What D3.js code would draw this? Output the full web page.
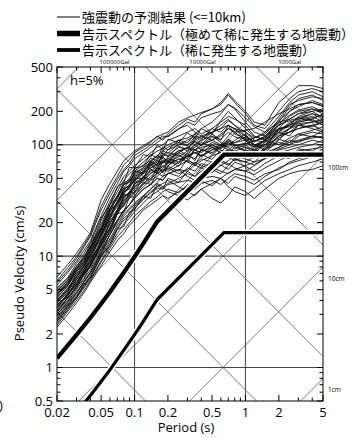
<!DOCTYPE html>
<html>
<head>
<meta charset="utf-8">
<script src="https://cdn.jsdelivr.net/npm/d3@7"></script>
<style>
  body { margin: 0; background: #fff; }
  svg text { font-family: "Open Sans", "Noto Sans", sans-serif; fill: #000; }
  svg text.jp { font-family: "Noto Sans CJK JP", sans-serif; }
</style>
</head>
<body>
<div id="chart"></div>
<script>
// Periods (s) at which the simulated spectra were read off
const periods = [0.02, 0.025, 0.03, 0.035, 0.04, 0.05, 0.06, 0.07, 0.08, 0.09, 0.1, 0.12, 0.14, 0.16, 0.18, 0.2,
  0.25, 0.3, 0.35, 0.4, 0.5, 0.6, 0.7, 0.8, 1.0, 1.2, 1.5, 2.0, 2.5, 3.0, 4.0, 5.0];

// 強震動の予測結果 : pseudo velocity (cm/s), one row per simulated record
const simulated = [
  [2.8, 3.6, 4.6, 5.8, 7, 10.4, 15.6, 21, 25, 29, 33, 40, 44, 50, 48, 55, 60, 58, 66, 62, 70, 65, 72, 80, 75, 70, 85, 95, 110, 105, 120, 115],
  [3.5, 4.5, 5.7, 7.1, 8.4, 13, 19.5, 26, 34, 37, 42, 50, 60, 55, 62, 70, 68, 80, 75, 90, 85, 95, 110, 100, 88, 80, 92, 120, 130, 140, 150, 135],
  [4.5, 5.8, 7.5, 9.2, 11.4, 18, 27, 35, 44, 47, 55, 62, 70, 80, 75, 72, 85, 95, 90, 100, 110, 120, 140, 130, 110, 95, 100, 130, 160, 170, 180, 160],
  [6, 7.9, 9.9, 12.6, 15.6, 28, 40, 52, 66, 74, 85, 95, 105, 120, 110, 125, 150, 170, 160, 190, 210, 230, 280, 240, 190, 150, 140, 200, 260, 300, 320, 300],
  [2.3, 3, 3.8, 4.7, 5.8, 8.2, 11, 13.8, 16, 19, 21, 26, 29, 32, 35, 33, 38, 42, 40, 45, 48, 44, 50, 55, 52, 48, 55, 60, 70, 75, 80, 85],
  [3.2, 4.2, 5.3, 6.7, 8.2, 12.4, 17, 24, 30, 34, 38, 45, 52, 58, 65, 60, 70, 80, 85, 78, 90, 100, 95, 85, 80, 90, 110, 140, 150, 160, 170, 190],
  [4, 5.2, 6.6, 8.3, 10.2, 15.6, 23, 31, 38, 42, 48, 58, 65, 70, 78, 85, 80, 75, 90, 95, 100, 90, 80, 75, 70, 78, 95, 120, 140, 150, 140, 130],
  [3, 3.9, 5, 6.2, 7.6, 11.4, 15.6, 21, 26, 29, 35, 42, 48, 52, 58, 62, 55, 60, 70, 65, 60, 55, 65, 75, 85, 80, 90, 105, 100, 120, 130, 125],
  [5, 6.3, 8.1, 10.1, 12, 21, 31, 41, 52, 58, 65, 75, 85, 95, 100, 110, 120, 130, 140, 125, 140, 160, 180, 170, 150, 120, 110, 150, 200, 220, 250, 230],
  [3.8, 4.8, 6.2, 7.6, 9.4, 15, 22, 29, 36, 42, 47, 55, 62, 66, 70, 75, 70, 85, 95, 105, 95, 85, 90, 100, 95, 85, 100, 125, 140, 160, 170, 150],
  [2.6, 3.4, 4.3, 5.3, 6.5, 9.8, 13, 17.5, 21, 23, 27, 32, 38, 42, 45, 48, 42, 38, 35, 40, 45, 50, 42, 38, 35, 40, 48, 55, 60, 65, 70, 75],
  [4.2, 5.5, 6.9, 8.6, 10.6, 17, 25, 34, 41, 47, 53, 60, 68, 75, 80, 90, 100, 110, 120, 115, 130, 150, 170, 150, 120, 100, 95, 140, 180, 200, 210, 190],
  [3.4, 4.4, 5.6, 6.9, 8.4, 13, 18, 25, 31, 35, 40, 48, 55, 62, 58, 65, 75, 70, 65, 72, 80, 85, 78, 72, 80, 95, 110, 100, 115, 125, 135, 145],
  [5.5, 7.1, 9, 11.3, 13.8, 23, 34, 45, 58, 65, 75, 85, 95, 105, 115, 120, 140, 150, 130, 120, 110, 100, 120, 140, 130, 110, 105, 130, 150, 180, 200, 210],
  [3, 3.8, 4.7, 5.9, 7.2, 11, 15.6, 20, 24, 27, 30, 35, 40, 45, 42, 38, 35, 32, 36, 40, 33, 30, 35, 42, 38, 33, 40, 50, 55, 58, 60, 65],
  [3.9, 5, 6.4, 8, 9.8, 15.6, 22, 30, 37, 42, 48, 56, 62, 68, 72, 70, 78, 88, 100, 110, 120, 105, 95, 110, 125, 100, 90, 120, 130, 150, 160, 170],
  [4.8, 6.1, 7.7, 9.7, 11.8, 19.5, 29, 38, 48, 55, 60, 70, 80, 88, 92, 100, 110, 115, 125, 140, 160, 190, 230, 210, 160, 130, 120, 160, 220, 260, 280, 250],
  [3.3, 4.2, 5.4, 6.8, 8.3, 12.7, 18, 24, 29, 33, 37, 44, 50, 55, 60, 58, 65, 72, 68, 75, 70, 78, 85, 82, 90, 85, 80, 95, 105, 110, 120, 115],
  [2.5, 3.3, 4.2, 5.2, 6.2, 9.1, 12.4, 16, 19.5, 22, 25, 30, 35, 38, 42, 45, 50, 55, 52, 58, 62, 58, 55, 60, 65, 70, 75, 85, 90, 95, 100, 110],
  [4.4, 5.7, 7.2, 9, 11, 17.5, 26, 35, 44, 50, 58, 66, 72, 80, 88, 95, 105, 100, 110, 120, 130, 140, 150, 140, 110, 90, 85, 110, 140, 170, 190, 180],
  [3.6, 4.6, 5.8, 7.2, 8.9, 13.7, 19.5, 26, 33, 38, 44, 52, 58, 64, 70, 78, 88, 95, 85, 80, 90, 95, 100, 105, 110, 115, 130, 160, 170, 190, 210, 200],
  [6.5, 8.4, 10.6, 13.2, 16.2, 32, 45, 58, 72, 80, 88, 98, 108, 118, 125, 130, 160, 175, 185, 195, 210, 240, 290, 250, 200, 160, 150, 240, 290, 340, 340, 320],
  [2.9, 3.7, 4.7, 5.9, 7.1, 10.7, 14.3, 19, 23, 26, 29, 34, 40, 46, 52, 55, 60, 52, 48, 55, 65, 72, 68, 62, 58, 65, 75, 90, 95, 100, 110, 105],
  [4, 5.1, 6.5, 8.2, 10.1, 15.9, 23, 31, 39, 44, 50, 58, 66, 72, 68, 75, 85, 95, 105, 100, 110, 125, 140, 130, 135, 140, 160, 190, 210, 230, 240, 225],
  [3.7, 4.4, 6.2, 7, 9.5, 13, 21, 25, 36, 35, 46, 50, 66, 58, 72, 64, 82, 70, 92, 78, 96, 84, 105, 92, 100, 88, 105, 130, 120, 150, 145, 160],
  [4.6, 5.5, 7.7, 8.7, 12, 17, 26, 30, 41, 42, 58, 55, 72, 65, 85, 78, 98, 88, 115, 100, 125, 110, 150, 125, 115, 98, 110, 150, 170, 190, 200, 175],
  [2.7, 3.6, 4.2, 5.6, 6.4, 10.1, 12.4, 17.5, 18.4, 25, 26, 35, 33, 44, 40, 50, 46, 58, 52, 62, 56, 66, 60, 70, 64, 58, 68, 80, 75, 92, 88, 100],
  [5.2, 6.4, 8.6, 10.6, 13.2, 22, 29, 42, 46, 63, 62, 82, 78, 100, 90, 112, 105, 128, 115, 140, 125, 165, 200, 175, 140, 118, 112, 170, 230, 250, 270, 260],
  [3.1, 4.3, 5.1, 7.1, 7.9, 12.7, 16.3, 24, 25, 34, 34, 46, 44, 56, 52, 64, 58, 74, 66, 82, 74, 90, 82, 96, 88, 80, 90, 112, 105, 125, 118, 135],
  [4.1, 4.9, 7, 7.9, 11, 15.3, 24, 27.5, 38, 40, 50, 50, 68, 60, 78, 70, 90, 80, 100, 90, 105, 98, 112, 104, 118, 106, 120, 150, 165, 175, 165, 150],
  [3.4, 4.6, 5.5, 7.7, 8.6, 14, 17.5, 26, 28, 38, 37, 52, 48, 63, 56, 72, 64, 84, 72, 92, 82, 98, 90, 88, 95, 90, 100, 115, 130, 140, 150, 160],
  [2.4, 3.2, 4, 4.9, 6, 8.8, 11.7, 15, 17.3, 20, 23, 27, 31, 34, 38, 40, 37, 44, 40, 47, 43, 50, 45, 52, 48, 44, 52, 62, 68, 72, 78, 82],
  [5.8, 7.4, 9.5, 12.1, 15, 26, 37, 49, 60, 68, 80, 90, 100, 112, 120, 118, 138, 160, 150, 175, 190, 200, 230, 215, 175, 145, 130, 180, 240, 280, 300, 270],
  [3.9, 4.7, 6.6, 7.5, 10.3, 14.3, 22, 26, 34.5, 37, 45, 48, 60, 56, 70, 68, 85, 78, 90, 85, 100, 92, 108, 98, 104, 96, 110, 138, 150, 165, 175, 185],
  [4.3, 5.4, 7.3, 8.5, 11.5, 16.3, 25, 30, 40, 43, 52, 57, 70, 66, 82, 80, 95, 92, 108, 98, 118, 112, 130, 118, 112, 100, 108, 135, 155, 175, 190, 170],
  [3.2, 4, 5.3, 6.3, 8.3, 11.7, 17, 21, 26, 29, 33, 40, 44, 50, 48, 56, 52, 62, 58, 68, 62, 70, 66, 74, 70, 66, 76, 92, 100, 108, 115, 120],
  [4.9, 6, 8.1, 9.7, 13, 18.2, 29, 34, 46, 48, 62, 64, 82, 76, 96, 90, 110, 104, 125, 112, 140, 130, 150, 138, 120, 108, 115, 155, 185, 205, 220, 200],
  [3.6, 4.5, 5.9, 7.4, 9.1, 13.3, 20, 25, 32, 36, 42, 47, 56, 58, 64, 68, 74, 78, 85, 88, 94, 100, 104, 98, 102, 108, 118, 140, 145, 155, 160, 165],
  [2.6, 3.5, 4.4, 5.5, 6.7, 10.1, 13.7, 18, 22, 24, 28, 33, 37, 41, 40, 44, 46, 48, 46, 50, 52, 50, 56, 60, 58, 54, 62, 72, 80, 88, 92, 95],
  [4.7, 5.8, 7.8, 9.4, 12.4, 17.6, 27, 32.5, 44, 46, 56, 62, 76, 72, 88, 84, 102, 98, 118, 108, 130, 140, 165, 150, 130, 115, 125, 165, 200, 230, 240, 220]
];

// 告示スペクトル (h=5%)
const codePeriods = [0.02, 0.03, 0.04, 0.05, 0.06, 0.08, 0.1, 0.12, 0.16, 0.64, 5];
const codeExtreme = [1.21, 1.96, 2.80, 3.74, 4.76, 7.13, 9.87, 13.0, 20.4, 81.5, 81.5];
const codeRare = [0.242, 0.392, 0.56, 0.748, 0.952, 1.43, 1.97, 2.6, 4.08, 16.3, 16.3];

// Axis ticks and the tripartite grid
const xTicks = [0.02, 0.05, 0.1, 0.2, 0.5, 1, 2, 5];
const yTicks = [0.5, 1, 2, 5, 10, 20, 50, 100, 200, 500];
const xGrid = [0.1, 1];
const yGrid = [1, 10, 100];
const accelLines = [1, 10, 100, 1000, 10000, 100000];   // Gal
const dispLines = [0.01, 0.1, 1, 10, 100];              // cm
const accelLabels = ['100000Gal', '10000Gal', '1000Gal'];
const accelLabelPeriods = [0.066, 0.41, 2.5];
const dispLabels = ['100cm', '10cm', '1cm'];
const dispLabelValues = [100, 10, 1];

const legendLabels = ['強震動の予測結果 (<=10km)', '告示スペクトル（極めて稀に発生する地震動）', '告示スペクトル（稀に発生する地震動）'];
const legendWidths = [1, 5.5, 3.8];

// Set the dimensions and margins of the graph
const W = 361, H = 438;
const margin = {top: 67, left: 57, right: 38, bottom: 37};
const width = W - margin.left - margin.right;
const height = H - margin.top - margin.bottom;

const svg = d3.select('#chart').append('svg')
  .attr('width', W)
  .attr('height', H);

const x = d3.scaleLog().domain([0.02, 5]).range([0, width]);
const y = d3.scaleLog().domain([0.5, 500]).range([height, 0]);

svg.append('defs').append('clipPath').attr('id', 'plot-clip')
  .append('rect').attr('width', width).attr('height', height);

const g = svg.append('g')
  .attr('transform', 'translate(' + margin.left + ',' + margin.top + ')');

const plot = g.append('g').attr('clip-path', 'url(#plot-clip)');

// Diagonal lines: constant acceleration (rising) and displacement (falling)
const TWO_PI = 2 * Math.PI;
const diag = [];
accelLines.forEach(a => diag.push([[0.02, a * 0.02 / TWO_PI], [5, a * 5 / TWO_PI]]));
dispLines.forEach(d => diag.push([[0.02, TWO_PI * d / 0.02], [5, TWO_PI * d / 5]]));

plot.selectAll('.diag')
  .data(diag)
  .enter().append('line')
  .attr('class', 'diag')
  .attr('x1', d => x(d[0][0])).attr('y1', d => y(d[0][1]))
  .attr('x2', d => x(d[1][0])).attr('y2', d => y(d[1][1]))
  .style('stroke', '#6a6a6a')
  .style('stroke-width', 0.9);

// Period / velocity grid
plot.selectAll('.xgrid').data(xGrid).enter().append('line')
  .attr('x1', d => x(d)).attr('x2', d => x(d))
  .attr('y1', 0).attr('y2', height)
  .style('stroke', '#555').style('stroke-width', 1.1);

plot.selectAll('.ygrid').data(yGrid).enter().append('line')
  .attr('y1', d => y(d)).attr('y2', d => y(d))
  .attr('x1', 0).attr('x2', width)
  .style('stroke', '#444').style('stroke-width', 1.1);

// Simulated spectra
const line = d3.line()
  .x((d, i) => x(periods[i]))
  .y(d => y(d));

plot.selectAll('.sim')
  .data(simulated)
  .enter().append('path')
  .attr('d', line)
  .style('fill', 'none')
  .style('stroke', '#111')
  .style('stroke-width', 0.9)
  .style('stroke-linejoin', 'round');

// Code spectra, with a white halo
const codeLine = d3.line()
  .x((d, i) => x(codePeriods[i]))
  .y(d => y(d));

[[codeExtreme, 4.2], [codeRare, 3.2]].forEach(([vals, w]) => {
  plot.append('path').attr('d', codeLine(vals))
    .style('fill', 'none').style('stroke', '#fff').style('stroke-width', w + 3);
  plot.append('path').attr('d', codeLine(vals))
    .style('fill', 'none').style('stroke', '#000').style('stroke-width', w);
});

// Frame
g.append('rect')
  .attr('width', width).attr('height', height)
  .style('fill', 'none').style('stroke', '#000').style('stroke-width', 1);

// Inward ticks on all four sides
const xAll = x.ticks();
const yAll = y.ticks();
const tickLen = v => (xTicks.includes(+v.toPrecision(3)) ? 6 : 3.5);
const tickLenY = v => (yTicks.includes(+v.toPrecision(3)) ? 6 : 3.5);

g.selectAll('.xt').data(xAll).enter().append('path')
  .attr('d', d => 'M' + x(d) + ',' + height + 'v' + (-tickLen(d)) + 'M' + x(d) + ',0v' + tickLen(d))
  .style('stroke', '#000').style('stroke-width', 1);

g.selectAll('.yt').data(yAll).enter().append('path')
  .attr('d', d => 'M0,' + y(d) + 'h' + tickLenY(d) + 'M' + width + ',' + y(d) + 'h' + (-tickLenY(d)))
  .style('stroke', '#000').style('stroke-width', 1);

// Tick labels
g.selectAll('.xl').data(xTicks).enter().append('text')
  .attr('x', d => x(d)).attr('y', height + 16)
  .attr('text-anchor', 'middle')
  .style('font-size', '13px')
  .text(d => d);

g.selectAll('.yl').data(yTicks).enter().append('text')
  .attr('x', -4).attr('y', d => y(d))
  .attr('dy', '0.35em')
  .attr('text-anchor', 'end')
  .style('font-size', '13px')
  .text(d => d);

// Gal / cm labels
g.selectAll('.al').data(accelLabels).enter().append('text')
  .attr('x', (d, i) => x(accelLabelPeriods[i])).attr('y', -3)
  .attr('text-anchor', 'middle')
  .style('font-size', '6px')
  .text(d => d);

g.selectAll('.dl').data(dispLabels).enter().append('text')
  .attr('x', width + 5).attr('y', (d, i) => y(TWO_PI * dispLabelValues[i] / 10))
  .attr('dy', '0.35em')
  .style('font-size', '6.5px')
  .text(d => d);

g.append('text')
  .attr('x', 13).attr('y', 18)
  .style('font-size', '13px')
  .text('h=5%');

// Axis titles
g.append('text')
  .attr('x', width / 2 - 4).attr('y', height + 31)
  .attr('text-anchor', 'middle')
  .style('font-size', '13px')
  .text('Period (s)');

svg.append('text')
  .attr('transform', 'translate(24,' + (margin.top + y(7)) + ') rotate(-90)')
  .attr('text-anchor', 'middle')
  .style('font-size', '13px')
  .text('Pseudo Velocity (cm/s)');

svg.append('text')
  .attr('x', -1).attr('y', 410)
  .style('font-size', '13px')
  .text(')');

// Legend
const legend = svg.append('g').attr('transform', 'translate(57,17)');
legendLabels.forEach((label, i) => {
  legend.append('line')
    .attr('x1', 0).attr('x2', 23)
    .attr('y1', i * 16.5).attr('y2', i * 16.5)
    .style('stroke', '#000').style('stroke-width', legendWidths[i]);
  legend.append('text')
    .attr('class', 'jp')
    .attr('x', 25).attr('y', i * 16.5 + 5)
    .style('font-size', '13px')
    .text(label);
});
</script>
</body>
</html>
